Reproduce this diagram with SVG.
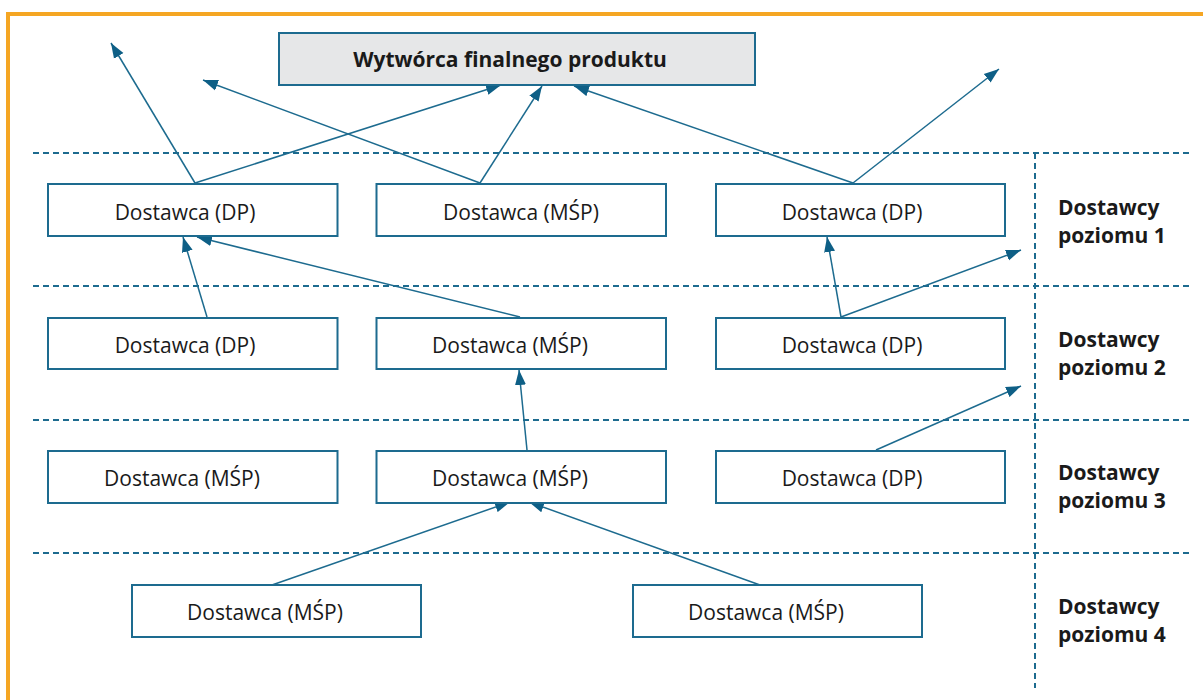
<svg xmlns="http://www.w3.org/2000/svg" width="1203" height="700" viewBox="0 0 1203 700">
<defs>
<style>
.box{fill:#ffffff;stroke:#1d6b8f;stroke-width:2}
.top{fill:#e6e7e8;stroke:#1d6b8f;stroke-width:2}
.t{font-family:"Open Sans","Liberation Sans",sans-serif;font-size:21px;fill:#1a1a1a;text-anchor:middle}
.tb{font-family:"Open Sans","Liberation Sans",sans-serif;font-size:21px;font-weight:bold;fill:#1a1a1a}
.dash{stroke:#1d6b8f;stroke-width:2;stroke-dasharray:6 4;fill:none}
.arr{stroke:#1d6b8f;stroke-width:1.5;fill:none;marker-end:url(#ah)}
</style>
<marker id="ah" markerUnits="userSpaceOnUse" markerWidth="16" markerHeight="12" refX="15" refY="6" orient="auto">
<path d="M0,0.5 L15,6 L0,11.5 z" fill="#0e5f86"/>
</marker>
</defs>
<rect width="1203" height="700" fill="#ffffff"/>
<path d="M8,700 V14 H1203" fill="none" stroke="#f5a623" stroke-width="4"/>

<g id="separators">
<line class="dash" x1="33" y1="153" x2="1190" y2="153"/>
<line class="dash" x1="33" y1="286" x2="1190" y2="286"/>
<line class="dash" x1="33" y1="420" x2="1190" y2="420"/>
<line class="dash" x1="33" y1="553" x2="1190" y2="553"/>
<line class="dash" x1="1035" y1="153" x2="1035" y2="688"/>
</g>

<g id="connectors">
<line class="arr" x1="195" y1="183" x2="111" y2="43"/>
<line class="arr" x1="195" y1="183" x2="501" y2="85"/>
<line class="arr" x1="480" y1="183" x2="203" y2="80"/>
<line class="arr" x1="480" y1="183" x2="542" y2="86"/>
<line class="arr" x1="853" y1="183" x2="574" y2="86"/>
<line class="arr" x1="853" y1="183" x2="999" y2="69"/>
<line class="arr" x1="207" y1="317" x2="183" y2="237"/>
<line class="arr" x1="520" y1="317" x2="197" y2="237"/>
<line class="arr" x1="841" y1="317" x2="827" y2="237"/>
<line class="arr" x1="841" y1="317" x2="1021" y2="250"/>
<line class="arr" x1="527" y1="450" x2="519" y2="370"/>
<line class="arr" x1="876" y1="450" x2="1021" y2="386"/>
<line class="arr" x1="272" y1="585" x2="510" y2="502"/>
<line class="arr" x1="760" y1="585" x2="529" y2="502"/>
</g>

<g id="producer">
<rect class="top" x="279" y="33" width="476" height="52"/>
<text class="tb" x="510" y="66.5" text-anchor="middle">Wytwórca finalnego produktu</text>
</g>

<g id="n1a"><rect class="box" x="48" y="184" width="289.5" height="52"/><text class="t" x="185" y="220">Dostawca (DP)</text></g>
<g id="n1b"><rect class="box" x="376.5" y="184" width="289.5" height="52"/><text class="t" x="521" y="220">Dostawca (MŚP)</text></g>
<g id="n1c"><rect class="box" x="716" y="184" width="289" height="52"/><text class="t" x="852" y="220">Dostawca (DP)</text></g>

<g id="n2a"><rect class="box" x="48" y="318" width="289.5" height="51"/><text class="t" x="185" y="352.5">Dostawca (DP)</text></g>
<g id="n2b"><rect class="box" x="376.5" y="318" width="289.5" height="51"/><text class="t" x="510" y="352.5">Dostawca (MŚP)</text></g>
<g id="n2c"><rect class="box" x="716" y="318" width="289" height="51"/><text class="t" x="852" y="352.5">Dostawca (DP)</text></g>

<g id="n3a"><rect class="box" x="48" y="451" width="289.5" height="52"/><text class="t" x="182" y="486">Dostawca (MŚP)</text></g>
<g id="n3b"><rect class="box" x="376.5" y="451" width="289.5" height="52"/><text class="t" x="510" y="486">Dostawca (MŚP)</text></g>
<g id="n3c"><rect class="box" x="716" y="451" width="289" height="52"/><text class="t" x="852" y="486">Dostawca (DP)</text></g>

<g id="n4a"><rect class="box" x="132" y="585" width="289" height="52"/><text class="t" x="265" y="620">Dostawca (MŚP)</text></g>
<g id="n4b"><rect class="box" x="633" y="585" width="289" height="52"/><text class="t" x="766" y="620">Dostawca (MŚP)</text></g>

<g id="level1"><text class="tb" x="1058" y="215">Dostawcy</text><text class="tb" x="1058" y="243">poziomu 1</text></g>
<g id="level2"><text class="tb" x="1058" y="347">Dostawcy</text><text class="tb" x="1058" y="375">poziomu 2</text></g>
<g id="level3"><text class="tb" x="1058" y="480">Dostawcy</text><text class="tb" x="1058" y="508">poziomu 3</text></g>
<g id="level4"><text class="tb" x="1058" y="614">Dostawcy</text><text class="tb" x="1058" y="642">poziomu 4</text></g>
</svg>
